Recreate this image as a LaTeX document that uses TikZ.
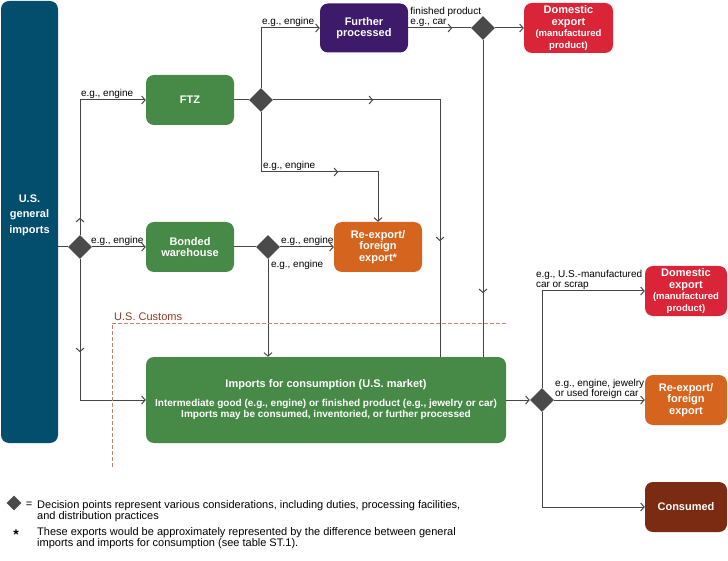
\documentclass[tikz,border=0pt]{standalone}
\usepackage{fontspec}
\setmainfont{Liberation Sans}
\usetikzlibrary{shapes.geometric,arrows.meta,decorations.markings}

\definecolor{usteal}{HTML}{034E6D}
\definecolor{zonegreen}{HTML}{478A47}
\definecolor{procpurple}{HTML}{3D1A6A}
\definecolor{exportred}{HTML}{DA2538}
\definecolor{reorange}{HTML}{D5641E}
\definecolor{usedbrown}{HTML}{7B2B11}
\definecolor{dmdgray}{HTML}{4A4A4A}
\definecolor{linegray}{HTML}{454545}
\definecolor{customsline}{HTML}{C0846E}
\definecolor{customstext}{HTML}{8B3A26}

\tikzset{
	box/.style={rectangle, rounded corners=8pt, text=white, align=center, inner sep=1pt,
		font=\fontsize{11}{11.5}\selectfont\bfseries},
	dmd/.style={diamond, fill=dmdgray, minimum size=24pt, inner sep=0pt},
	flow/.style={draw=linegray, line width=1pt},
	lbl/.style={font=\fontsize{10}{10.5}\selectfont, inner sep=0.5pt, align=left},
	legendtxt/.style={font=\fontsize{11}{11}\selectfont, inner sep=0pt, align=left},
	midarr/.style={postaction={decorate, decoration={markings, mark=at position #1 with {\arrow{>}}}}},
}
\newcommand{\smallbf}[1]{{\fontsize{9.5}{10.5}\selectfont #1}}

\begin{document}
\begin{tikzpicture}[x=1pt, y=-1pt, >={Straight Barb[length=3.5pt, width=8pt]}]
\useasboundingbox (0,0) rectangle (728,561);

%% Kaesten
\node[box, fill=usteal, minimum width=57pt, minimum height=442pt] (gi) at (29.5,222) {};
\node[box, font=\fontsize{11}{15.5}\selectfont\bfseries] (gitxt) at (29.5,215) {U.S.\\general\\imports};
\node[box, fill=zonegreen, minimum width=88pt, minimum height=50pt] (ftz) at (190,100) {FTZ};
\node[box, fill=zonegreen, minimum width=88pt, minimum height=50pt] (bw) at (190,247) {Bonded\\warehouse};
\node[box, fill=procpurple, minimum width=88pt, minimum height=49pt] (fp) at (364,28) {Further\\processed};
\node[box, fill=exportred, minimum width=89pt, minimum height=50pt] (de) at (568.5,28) {Domestic\\export\\\smallbf{(manufactured}\\\smallbf{product)}};
\node[box, fill=reorange, minimum width=88pt, minimum height=50pt] (rx) at (378,247) {Re-export/\\foreign\\export*};
\node[box, fill=zonegreen, minimum width=360pt, minimum height=86pt] (ifc) at (326,400)
	{Imports for consumption (U.S. market)\\[7pt]
	{\fontsize{10}{11}\selectfont Intermediate good (e.g., engine) or finished product (e.g., jewelry or car)}\\
	{\fontsize{10}{11}\selectfont Imports may be consumed, inventoried, or further processed}};
\node[box, fill=exportred, minimum width=82pt, minimum height=50pt] (de2) at (686,291) {Domestic\\export\\\smallbf{(manufactured}\\\smallbf{product)}};
\node[box, fill=reorange, minimum width=82pt, minimum height=50pt] (rx2) at (686,400) {Re-export/\\foreign\\export};
\node[box, fill=usedbrown, minimum width=82pt, minimum height=50pt] (cons) at (686,507) {Consumed};

%% Entscheidungspunkte
\node[dmd] (d1) at (80,247) {};
\node[dmd] (d2) at (261,100) {};
\node[dmd] (d3) at (268,247) {};
\node[dmd] (d4) at (483,28) {};
\node[dmd] (d5) at (542,400) {};

\coordinate (kink) at (261,172);
\coordinate (ftzdown) at (440,357);

%% Verbindungen
\draw[flow] (gi.east |- d1) -- (d1.west);
\draw[flow, ->] (d1.east) -- (bw.west) node[lbl, pos=0, anchor=south west, xshift=-2pt] {e.g., engine};
\draw[flow, ->, midarr=17pt] (d1.north) |- (ftz.west) node[lbl, pos=0.5, anchor=south west] {e.g., engine};
\draw[flow, ->, midarr=93pt] (d1.south) |- (ifc.west);

\draw[flow] (ftz.east) -- (d2.west);
\draw[flow, ->] (d2.north) |- (fp.west) node[lbl, pos=0.5, anchor=south west] {e.g., engine};
\draw[flow, midarr=100pt, midarr=308pt] (d2.east) -| (ftzdown);
\draw[flow, ->, midarr=137pt] (d2.south) -- (kink) -| (rx.north) node[lbl, pos=0, anchor=south west, xshift=1pt] {e.g., engine};

\draw[flow, midarr=44pt] (fp.east) -- (d4.west) node[lbl, pos=0.02, anchor=south west] {finished product\\e.g., car};
\draw[flow, ->] (d4.east) -- (de.west);
\draw[flow, midarr=253pt] (d4.south) -- (d4.south |- ifc.north);

\draw[flow] (bw.east) -- (d3.west);
\draw[flow, ->] (d3.east) -- (rx.west) node[lbl, pos=0, anchor=south west] {e.g., engine};
\draw[flow, ->] (d3.south) -- (d3.south |- ifc.north) node[lbl, pos=0.0, anchor=north west, xshift=2pt] {e.g., engine};

\draw[flow, ->] (ifc.east) -- (d5.west);
\draw[flow, ->] (d5.north) |- (de2.west) node[lbl, pos=0.5, anchor=south west, xshift=-7pt] {e.g., U.S.-manufactured\\car or scrap};
\draw[flow, ->] (d5.east) -- (rx2.west) node[lbl, pos=0.0, anchor=south west] {e.g., engine, jewelry\\or used foreign car};
\draw[flow, ->] (d5.south) |- (cons.west);

%% Zollgrenze
\coordinate (cusA) at (506,323);
\coordinate (cusB) at (112,467);
\draw[customsline, line width=1pt, dash pattern=on 4pt off 2pt] (cusA) -| (cusB);
\node[legendtxt, text=customstext, anchor=base west] (custxt) at (114,320) {U.S. Customs};

%% Legende
\node[dmd, minimum size=15pt] (legd) at (14,503) {};
\node[legendtxt, anchor=base] (legeq) at (29,507) {=};
\node[legendtxt, anchor=base west] (legtxt) at (37,519)
	{Decision points represent various considerations, including duties, processing facilities,\\and distribution practices};
\node[legendtxt, font=\fontsize{14}{14}\selectfont\bfseries, anchor=base] (legstar) at (16,539) {*};
\node[legendtxt, anchor=base west] (legtxt2) at (37,546)
	{These exports would be approximately represented by the difference between general\\imports and imports for consumption (see table ST.1).};
\end{tikzpicture}
\end{document}
